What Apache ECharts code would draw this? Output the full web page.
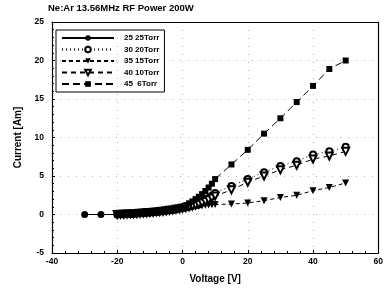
<!DOCTYPE html>
<html>
<head>
<meta charset="utf-8">
<script src="https://cdn.jsdelivr.net/npm/echarts@6/dist/echarts.min.js"></script>
<style>
  html, body { margin: 0; padding: 0; background: #fff; }
  #chart { width: 386px; height: 291px; }
</style>
</head>
<body>
<div id="chart"></div>
<script>
    // voltages [V] and currents [Am]
    var names = ['25 25Torr', '30 20Torr', '35 15Torr', '40 10Torr', '45  6Torr']

    var voltA = [-30, -25, -20, -19, -18, -17, -16, -15, -14, -13, -12, -11, -10, -9, -8, -7, -6, -5, -4, -3, -2, -1, 0, 1, 2, 3, 4, 5]
    var currA = [0, 0, 0, 0.02, 0.04, 0.06, 0.08, 0.1, 0.13, 0.16, 0.19, 0.22, 0.26, 0.3, 0.34, 0.38, 0.43, 0.48, 0.54, 0.6, 0.67, 0.74, 0.82, 0.9, 0.98, 1.06, 1.15, 1.25]

    var voltB = [-20, -19, -18, -17, -16, -15, -14, -13, -12, -11, -10, -9, -8, -7, -6, -5, -4, -3, -2, -1, 0, 1, 2, 3, 4, 5, 6, 7, 8, 9, 10, 15, 20, 25, 30, 35, 40, 45, 50]
    var currB = [0, 0.02, 0.04, 0.06, 0.08, 0.1, 0.13, 0.16, 0.19, 0.22, 0.26, 0.3, 0.34, 0.38, 0.43, 0.48, 0.54, 0.6, 0.67, 0.74, 0.85, 0.95, 1.05, 1.2, 1.35, 1.5, 1.7, 1.9, 2.15, 2.45, 2.8, 3.7, 4.6, 5.5, 6.3, 6.9, 7.8, 8.2, 8.8]

    var voltC = [-20, -19, -18, -17, -16, -15, -14, -13, -12, -11, -10, -9, -8, -7, -6, -5, -4, -3, -2, -1, 0, 1, 2, 3, 4, 5, 6, 7, 8, 9, 10, 15, 20, 25, 30, 35, 40, 45, 50]
    var currC = [0, 0.02, 0.04, 0.06, 0.08, 0.1, 0.13, 0.16, 0.19, 0.22, 0.26, 0.3, 0.34, 0.38, 0.43, 0.48, 0.54, 0.6, 0.66, 0.72, 0.8, 0.86, 0.92, 0.98, 1.04, 1.1, 1.15, 1.2, 1.24, 1.28, 1.3, 1.35, 1.5, 1.8, 2.2, 2.5, 3.1, 3.5, 4.1]

    var voltD = [-20, -19, -18, -17, -16, -15, -14, -13, -12, -11, -10, -9, -8, -7, -6, -5, -4, -3, -2, -1, 0, 1, 2, 3, 4, 5, 6, 7, 8, 9, 10, 15, 20, 25, 30, 35, 40, 45, 50]
    var currD = [0, 0.02, 0.04, 0.06, 0.08, 0.1, 0.13, 0.16, 0.19, 0.22, 0.26, 0.3, 0.34, 0.38, 0.43, 0.48, 0.54, 0.6, 0.67, 0.74, 0.82, 0.9, 1.0, 1.1, 1.22, 1.35, 1.5, 1.7, 1.9, 2.15, 2.4, 3.2, 4.2, 5.0, 5.8, 6.4, 7.2, 7.6, 8.2]

    var voltE = [-20, -19, -18, -17, -16, -15, -14, -13, -12, -11, -10, -9, -8, -7, -6, -5, -4, -3, -2, -1, 0, 1, 2, 3, 4, 5, 6, 7, 8, 9, 10, 15, 20, 25, 30, 35, 40, 45, 50]
    var currE = [0, 0.02, 0.04, 0.06, 0.08, 0.1, 0.13, 0.16, 0.19, 0.22, 0.26, 0.3, 0.34, 0.38, 0.43, 0.5, 0.57, 0.65, 0.74, 0.85, 1.0, 1.2, 1.45, 1.7, 2.0, 2.3, 2.65, 3.05, 3.5, 4.0, 4.6, 6.5, 8.4, 10.5, 12.5, 14.6, 16.7, 18.9, 20.0]

    function pairs(xs, ys) {
        return xs.map(function (x, i) { return [x, ys[i]] })
    }

    var chart = echarts.init(document.getElementById('chart'), null, { renderer: 'canvas' })
    var font = 'Liberation Sans'
    var labelStyle = { fontFamily: font, fontSize: 8.5, fontWeight: 'bold', color: '#000' }
    var nameStyle = { fontFamily: font, fontSize: 10, fontWeight: 'bold', color: '#000' }
    var dots = { color: '#aaa', type: [1, 7], width: 1 }
    var box = {
        axisLine: { show: true, onZero: false, lineStyle: { color: '#000', width: 1.2 } },
        axisTick: { show: false }, axisLabel: { show: false }, splitLine: { show: false }
    }

    var option = {
        backgroundColor: '#fff',
        animation: false,
        title: {
            text: 'Ne:Ar 13.56MHz RF Power 200W',
            left: 48,
            top: 3,
            padding: 0,
            textStyle: { fontFamily: font, fontSize: 9.5, fontWeight: 'bold', color: '#000' }
        },
        legend: {
            orient: 'vertical',
            left: 56,
            top: 30,
            padding: [4, 5, 4, 5],
            itemGap: 3.5,
            itemWidth: 52,
            itemHeight: 7,
            borderColor: '#000',
            borderWidth: 1,
            textStyle: { fontFamily: font, fontSize: 8, fontWeight: 'bold', color: '#000', padding: [0, 0, 0, 5] },
            data: names
        },
        grid: { left: 52, right: 6, top: 22, bottom: 38 },
        xAxis: [{
            type: 'value',
            min: -40, max: 60, interval: 20,
            name: 'Voltage [V]',
            nameLocation: 'middle',
            nameGap: 21,
            nameTextStyle: nameStyle,
            axisLine: { onZero: false, lineStyle: { color: '#000', width: 1.2 } },
            axisTick: { inside: true, length: 3, lineStyle: { color: '#000' } },
            minorTick: { show: true, splitNumber: 5, length: 2, lineStyle: { color: '#000' } },
            axisLabel: Object.assign({ margin: 4 }, labelStyle),
            splitLine: { show: true, lineStyle: dots }
        }, Object.assign({ type: 'value', min: -40, max: 60, position: 'top' }, box)],
        yAxis: [{
            type: 'value',
            min: -5, max: 25, interval: 5,
            name: 'Current [Am]',
            nameLocation: 'middle',
            nameGap: 26,
            nameTextStyle: nameStyle,
            axisLine: { onZero: false, lineStyle: { color: '#000', width: 1.2 } },
            axisTick: { inside: true, length: 3, lineStyle: { color: '#000' } },
            minorTick: { show: true, splitNumber: 5, length: 2, lineStyle: { color: '#000' } },
            axisLabel: Object.assign({ margin: 8 }, labelStyle),
            splitLine: { show: true, lineStyle: dots }
        }, Object.assign({ type: 'value', min: -5, max: 25, position: 'right' }, box)],
        series: [
            {
                name: names[0], type: 'line', data: pairs(voltA, currA),
                symbol: 'circle', symbolSize: 7,
                itemStyle: { color: '#000' },
                lineStyle: { color: '#000', width: 1, type: 'solid' }
            },
            {
                name: names[1], type: 'line', data: pairs(voltB, currB),
                symbol: 'emptyCircle', symbolSize: 6,
                itemStyle: { color: '#000', borderWidth: 1.2 },
                lineStyle: { color: '#000', width: 1, type: [1, 3] }
            },
            {
                name: names[2], type: 'line', data: pairs(voltC, currC),
                symbol: 'triangle', symbolRotate: 180, symbolSize: 7,
                itemStyle: { color: '#000' },
                lineStyle: { color: '#000', width: 1, type: [4, 3] }
            },
            {
                name: names[3], type: 'line', data: pairs(voltD, currD),
                symbol: 'emptyTriangle', symbolRotate: 180, symbolSize: 7,
                itemStyle: { color: '#000', borderWidth: 1.2 },
                lineStyle: { color: '#000', width: 1, type: [5, 4] }
            },
            {
                name: names[4], type: 'line', data: pairs(voltE, currE),
                symbol: 'rect', symbolSize: 6,
                itemStyle: { color: '#000' },
                lineStyle: { color: '#000', width: 1, type: [7, 4] }
            }
        ]
    }
    chart.setOption(option)
</script>
</body>
</html>
